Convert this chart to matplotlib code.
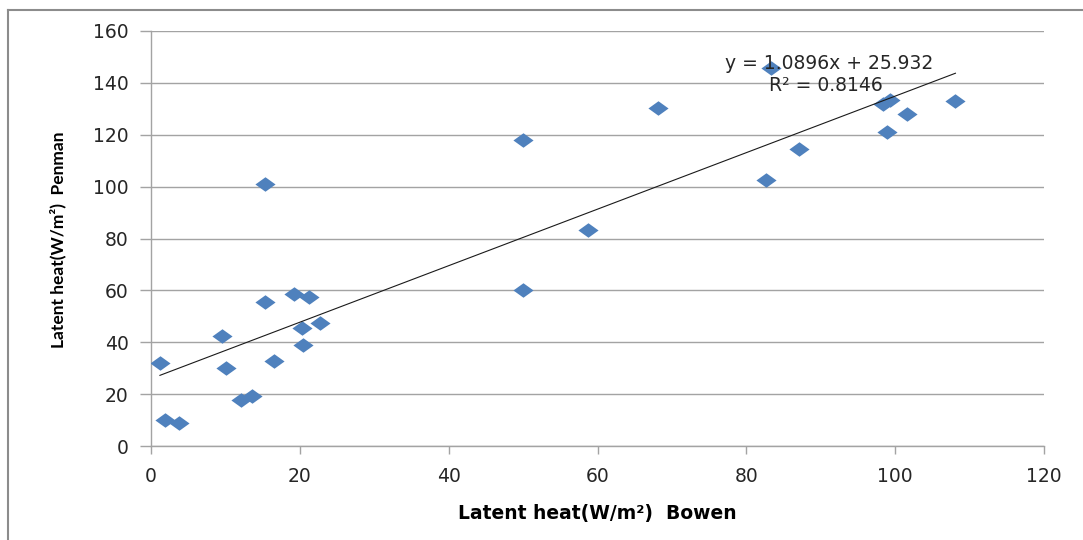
import matplotlib
matplotlib.use("Agg")
import matplotlib.pyplot as plt
import numpy as np
from matplotlib.path import Path
from matplotlib.lines import Line2D

# Latent heat estimates (W/m²): Bowen ratio method vs Penman method
bowen = [1.2, 1.9, 3.8, 9.5, 10.1, 12.1, 13.6, 15.3, 15.3, 16.5, 19.2, 20.3,
         20.4, 21.2, 22.7, 50.0, 50.0, 58.7, 68.1, 82.7, 83.3, 87.1, 98.3,
         99.3, 98.9, 101.6, 108.1]
penman = [32.0, 10.0, 8.9, 42.4, 30.1, 17.7, 19.3, 101.0, 55.5, 32.8, 58.6,
          45.5, 38.9, 57.4, 47.4, 118.0, 60.1, 83.3, 130.3, 102.5, 145.7,
          114.5, 131.8, 133.4, 121.0, 128.0, 133.0]

# Linear trendline coefficients
slope = 1.0896
intercept = 25.932
r_squared = 0.8146

x_ticks = [0, 20, 40, 60, 80, 100, 120]
y_ticks = [0, 20, 40, 60, 80, 100, 120, 140, 160]

blue = "#4F81BD"
grid_gray = "#A3A3A3"
text_color = "#262626"

fig = plt.figure(figsize=(10.83, 5.40), dpi=100)
ax = fig.add_axes([151 / 1083, 1 - 446 / 540, (1044 - 151) / 1083, (446 - 31) / 540])

# Wide diamond marker
diamond = Path([(-1, 0), (0, 0.72), (1, 0), (0, -0.72), (-1, 0)],
               [Path.MOVETO, Path.LINETO, Path.LINETO, Path.LINETO, Path.CLOSEPOLY])
ax.plot(bowen, penman, linestyle="none", marker=diamond, markersize=14.5,
        color=blue, markeredgewidth=0, zorder=3)

# Trendline over the data range
xs = np.array([min(bowen), max(bowen)])
ax.plot(xs, slope * xs + intercept, color="#1a1a1a", linewidth=0.8, zorder=4)

ax.text(77.1, 147.5, f"y = {slope}x + {intercept}", fontsize=13.5,
        color=text_color, ha="left", va="center", zorder=5)
ax.text(83.0, 139.0, f"R² = {r_squared}", fontsize=13.5,
        color=text_color, ha="left", va="center", zorder=5)

ax.set_xlim(0, 120)
ax.set_ylim(0, 160)
ax.set_xticks(x_ticks)
ax.set_yticks(y_ticks)
ax.yaxis.grid(True, color=grid_gray, linewidth=1.0)
ax.set_axisbelow(True)

for side in ("top", "right"):
    ax.spines[side].set_visible(False)
for side in ("left", "bottom"):
    ax.spines[side].set_color(grid_gray)
    ax.spines[side].set_linewidth(1.0)

ax.tick_params(axis="y", length=8, width=1.0, color=grid_gray, pad=8,
               labelsize=13.5, labelcolor=text_color)
ax.tick_params(axis="x", length=6, width=1.0, color=grid_gray, pad=9,
               labelsize=13.5, labelcolor=text_color)

ax.set_xlabel("Latent heat(W/m²)  Bowen", fontsize=13.5, fontweight="bold",
              family="DejaVu Sans")
ax.set_ylabel("Latent heat(W/m²)  Penman", fontsize=12.5, fontweight="bold",
              family=["Lato", "DejaVu Sans"])
ax.xaxis.set_label_coords(0.5, (446 - 514) / 415)
ax.xaxis.label.set_va("center")
ax.yaxis.set_label_coords((58 - 151) / 893, (446 - 240) / 415)
ax.yaxis.label.set_va("center")

# Chart area border (left and top edges)
fig.add_artist(Line2D([8 / 1083, 8 / 1083], [0, 1 - 10 / 540],
                      transform=fig.transFigure, color="#8c8c8c", linewidth=1.5))
fig.add_artist(Line2D([8 / 1083, 1], [1 - 10 / 540, 1 - 10 / 540],
                      transform=fig.transFigure, color="#8c8c8c", linewidth=1.5))

fig.savefig("out.png", dpi=100, facecolor="white")
